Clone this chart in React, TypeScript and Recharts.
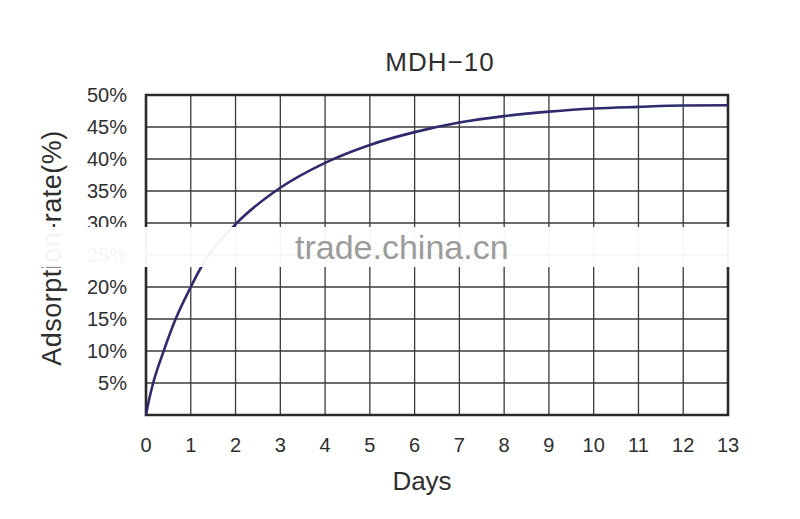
import { LineChart, Line, XAxis, YAxis, CartesianGrid, ReferenceArea } from "recharts";

const days = [0, 0.05, 0.16, 0.39, 0.65, 1, 1.24, 2, 3, 4, 5, 6, 7, 8, 9, 10, 11, 12, 13];
const rates = [0, 1.8, 5, 9.9, 14.8, 20, 23.2, 29.8, 35.5, 39.4, 42.2, 44.2, 45.7, 46.7, 47.4, 47.9, 48.15, 48.35, 48.4];
const dayTicks = [0, 1, 2, 3, 4, 5, 6, 7, 8, 9, 10, 11, 12, 13];
const rateTicks = [0, 5, 10, 15, 20, 25, 30, 35, 40, 45, 50];

const data = days.map((d, i) => ({ day: d, rate: rates[i] }));

const font = "'Liberation Sans', Arial, sans-serif";
const ink = "#2e2e2e";

const App = () => {
	return (
		<div style={{ position: "absolute", left: 0, top: 0, width: 800, height: 519, background: "#fff", fontFamily: font }}>
			<LineChart width={800} height={519} data={data} margin={{ top: 95, right: 72, bottom: 64, left: 86 }}>
				<CartesianGrid stroke="#3a3a3a" strokeWidth={1.3} />
				<XAxis
					type="number"
					dataKey="day"
					domain={[0, 13]}
					ticks={dayTicks}
					height={40}
					axisLine={false}
					tickLine={false}
					tickSize={0}
					tickMargin={23}
					tick={{ fill: ink, fontSize: 20, fontFamily: font }}
				/>
				<YAxis
					type="number"
					domain={[0, 50]}
					ticks={rateTicks}
					width={60}
					axisLine={false}
					tickLine={false}
					tickSize={0}
					tickMargin={19}
					tick={{ fill: ink, fontSize: 20, fontFamily: font }}
					tickFormatter={(v: number) => (v === 0 ? "" : `${v}%`)}
				/>
				<ReferenceArea x1={0} x2={13} y1={0} y2={50} fill="none" stroke="#2a2a2a" strokeWidth={2.6} />
				<Line
					type="monotone"
					dataKey="rate"
					stroke="#2d2b6e"
					strokeWidth={2.6}
					dot={false}
					isAnimationActive={false}
				/>
			</LineChart>

			<div style={{ position: "absolute", left: 440, top: 47, transform: "translateX(-50%)", fontSize: 26, color: ink, letterSpacing: 1, whiteSpace: "nowrap" }}>
				MDH−10
			</div>
			<div style={{ position: "absolute", left: 422, top: 466, transform: "translateX(-50%)", fontSize: 26, color: ink, whiteSpace: "nowrap" }}>
				Days
			</div>
			<div
				style={{
					position: "absolute",
					left: 52,
					top: 248,
					transform: "translate(-50%, -50%) rotate(-90deg)",
					fontSize: 27,
					color: ink,
					letterSpacing: 0.5,
					whiteSpace: "nowrap",
				}}
			>
				Adsorption-rate(%)
			</div>

			{/* watermark band */}
			<div style={{ position: "absolute", left: 0, top: 227, width: 800, height: 40, background: "rgba(255,255,255,0.95)" }} />
			<div style={{ position: "absolute", left: 295, top: 228, fontSize: 34, color: "#9c9c9c", whiteSpace: "nowrap" }}>
				trade.china.cn
			</div>
		</div>
	);
};

export default App;
